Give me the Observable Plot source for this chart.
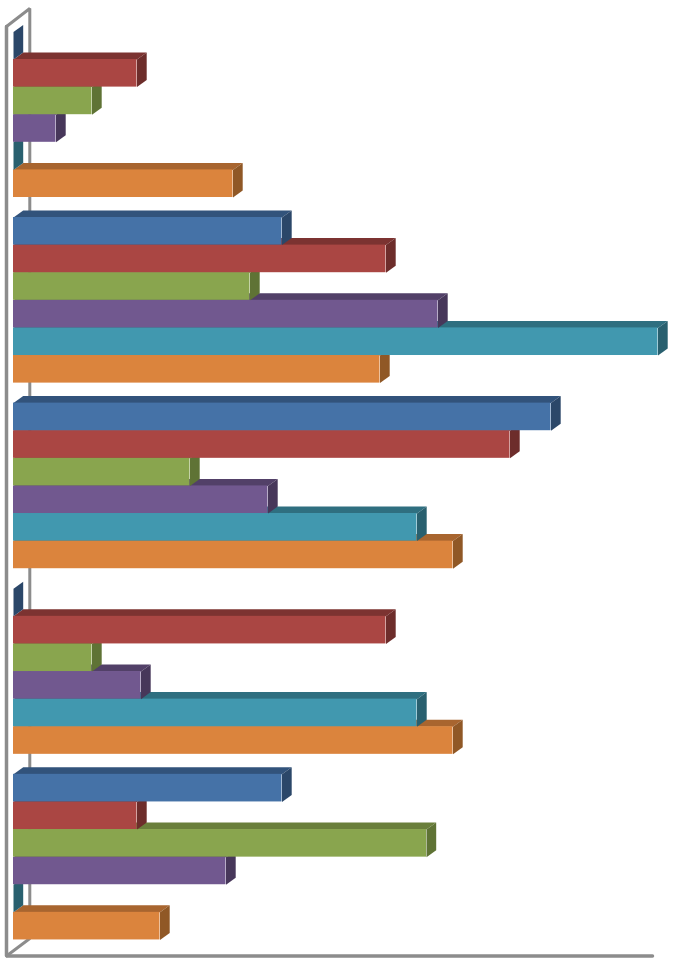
<!DOCTYPE html>
<html>
<head>
<meta charset="utf-8">
<style>html,body{margin:0;padding:0;background:#fff}svg{display:block}</style>
<script src="https://cdn.jsdelivr.net/npm/d3@7"></script>
<script src="https://cdn.jsdelivr.net/npm/@observablehq/plot@0.6"></script>
</head>
<body>
<div id="chart"></div>
<script>
// Values (no labels are printed in the reference)
const groups = ["G1", "G2", "G3", "G4", "G5"];
const blue   = [0, 268.5, 537.5, 0, 268.5];
const red    = [123.5, 372.5, 496.5, 372.5, 123.5];
const green  = [78.5, 236.5, 176.5, 78.5, 413];
const purple = [42.5, 424.5, 254.5, 127.5, 212.5];
const teal   = [0, 644.5, 403.5, 403.5, 0];
const orange = [219.5, 366.5, 439.5, 439.5, 146.5];

const seriesValues = [blue, red, green, purple, teal, orange];
const frontColors = ["#4572A7", "#AA4643", "#89A54E", "#71588F", "#4198AF", "#DB843D"];
const topColors   = ["#32537B", "#7C3331", "#6A7F3B", "#524068", "#2F6F80", "#A8652F"];
const sideColors  = ["#2B4769", "#6D2D2B", "#5F7335", "#47375A", "#29606F", "#905826"];

const groupPitch = 6.725;  // rows from one group to the next
const depthX = 9.7;        // extrusion, x units
const depthY = -0.254;     // extrusion, row units

const bars = groups.flatMap((g, gi) => seriesValues.map((vals, si) => ({
  value: vals[gi],
  row: gi * groupPitch + si,
  si
})));

const faces = b => ({
  top: [
    {x: 0, y: b.row},
    {x: b.value, y: b.row},
    {x: b.value + depthX, y: b.row + depthY},
    {x: depthX, y: b.row + depthY}
  ],
  side: [
    {x: b.value, y: b.row},
    {x: b.value + depthX, y: b.row + depthY},
    {x: b.value + depthX, y: b.row + 1 + depthY},
    {x: b.value, y: b.row + 1}
  ]
});

// Upper bars sit in front of lower ones, so draw from the bottom up
const barMarks = [...bars].reverse().flatMap(b => {
  const f = faces(b);
  return [
    Plot.line(f.top,  {x: "x", y: "y", fill: topColors[b.si],  stroke: "none"}),
    Plot.line(f.side, {x: "x", y: "y", fill: sideColors[b.si], stroke: "none"}),
    Plot.rect([b], {x1: 0, x2: d => d.value, y1: d => d.row, y2: d => d.row + 1, fill: frontColors[b.si]})
  ];
});

// Wall and floor outline of the 3D frame, in chart units
const wallGray = "#8C8C8C";
const frontX = -7, backX = 16.3;
const frontTop = -0.196, backTop = -0.848, backBottom = 32.85, frontBottom = 33.48, floorEnd = 639;

const frameMarks = [
  Plot.line([{x: frontX, y: frontBottom}, {x: backX, y: backBottom}, {x: backX, y: backTop}, {x: frontX, y: frontTop}],
    {x: "x", y: "y", stroke: wallGray, strokeWidth: 3, strokeLinejoin: "miter"}),
  Plot.line([{x: frontX, y: frontTop}, {x: frontX, y: frontBottom}, {x: floorEnd, y: frontBottom}],
    {x: "x", y: "y", stroke: wallGray, strokeWidth: 3.5, strokeLinejoin: "miter"})
];

const chart = Plot.plot({
  width: 683,
  height: 960,
  margin: 0,
  x: {axis: null, domain: [0, 670], range: [13, 683]},
  y: {axis: null, domain: [0, 33], range: [31.4, 31.4 + 33 * 27.6]},
  marks: [...frameMarks, ...barMarks]
});
document.getElementById("chart").append(chart);
</script>
</body>
</html>
